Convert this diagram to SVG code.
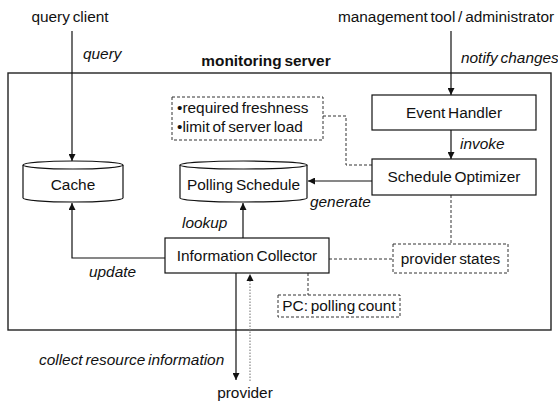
<svg xmlns="http://www.w3.org/2000/svg" width="558" height="403" viewBox="0 0 558 403">
  <defs>
    <marker id="arrow" viewBox="0 0 10 10" refX="10" refY="5" markerWidth="7" markerHeight="7" markerUnits="userSpaceOnUse" orient="auto">
      <path d="M0,0 L10,5 L0,10 z" fill="#111"/>
    </marker>
    <style>
      text { font-family: "Liberation Sans", Arial, Helvetica, sans-serif; font-size: 15.4px; fill: #111; word-spacing: -1.5px; }
      .it { font-style: italic; }
      .bold { font-weight: bold; }
      .mid { text-anchor: middle; }
      .box { fill: #fff; stroke: #111; stroke-width: 1.2; }
      .note { fill: #fff; stroke: #333; stroke-width: 1; stroke-dasharray: 3 2; }
      .line { fill: none; stroke: #111; stroke-width: 1.2; }
      .dash { fill: none; stroke: #333; stroke-width: 1; stroke-dasharray: 3 2; }
      .dot { fill: none; stroke: #888; stroke-width: 1.2; stroke-dasharray: 1.5 1.5; }
    </style>
  </defs>

  <rect width="558" height="403" fill="#fff"/>

  <!-- server boundary -->
  <g id="monitoring-server">
    <rect x="8" y="73" width="543" height="257" fill="none" stroke="#222" stroke-width="1.4"/>
    <text x="266" y="66" class="bold mid">monitoring server</text>
  </g>

  <!-- external actors -->
  <g id="query-client"><text x="70" y="22" class="mid">query client</text></g>
  <g id="management-tool"><text x="446" y="22" class="mid">management tool / administrator</text></g>
  <g id="provider"><text x="245" y="398" class="mid">provider</text></g>

  <!-- connectors -->
  <g id="connectors">
    <line x1="72" y1="31" x2="72" y2="161" class="line" marker-end="url(#arrow)"/>
    <line x1="451" y1="31" x2="451" y2="95" class="line" marker-end="url(#arrow)"/>
    <line x1="451" y1="130" x2="451" y2="159" class="line" marker-end="url(#arrow)"/>
    <line x1="372" y1="181" x2="308" y2="181" class="line" marker-end="url(#arrow)"/>
    <line x1="243" y1="238" x2="243" y2="203" class="line" marker-end="url(#arrow)"/>
    <polyline points="165,258 72,258 72,203" class="line" marker-end="url(#arrow)"/>
    <line x1="236" y1="273" x2="236" y2="380" class="line" marker-end="url(#arrow)"/>
    <line x1="250" y1="381" x2="250" y2="281" class="dot"/>
    <path d="M246.5,281 L250,274 L253.5,281 z" fill="#111"/>
    <polyline points="323,116 346,116 346,165 372,165" class="dash"/>
    <line x1="451" y1="195" x2="451" y2="244" class="dash"/>
    <line x1="329" y1="259" x2="393" y2="259" class="dash"/>
    <line x1="308" y1="273" x2="308" y2="295" class="dash"/>

    <text x="83" y="59" class="it">query</text>
    <text x="461" y="63" class="it">notify changes</text>
    <text x="460" y="149" class="it">invoke</text>
    <text x="310" y="207" class="it">generate</text>
    <text x="182" y="228" class="it">lookup</text>
    <text x="89" y="277" class="it">update</text>
    <text x="39" y="365" class="it">collect resource information</text>
  </g>

  <!-- nodes -->
  <g id="requirements-note">
    <rect x="172" y="97" width="151" height="43" class="note"/>
    <text x="177" y="113">•required freshness</text>
    <text x="177" y="132">•limit of server load</text>
  </g>

  <g id="event-handler">
    <rect x="372" y="95" width="164" height="35" class="box"/>
    <text x="454" y="118" class="mid">Event Handler</text>
  </g>

  <g id="schedule-optimizer">
    <rect x="372" y="159" width="164" height="36" class="box"/>
    <text x="454" y="182" class="mid">Schedule Optimizer</text>
  </g>

  <g id="cache">
    <path d="M23,165 L23,198 A50,4 0 0 0 123,198 L123,165" class="box"/>
    <ellipse cx="73" cy="165" rx="50" ry="4" class="box"/>
    <text x="73" y="190" class="mid">Cache</text>
  </g>

  <g id="polling-schedule">
    <path d="M180,165 L180,198 A63.5,4 0 0 0 307,198 L307,165" class="box"/>
    <ellipse cx="243.5" cy="165" rx="63.5" ry="4" class="box"/>
    <text x="243.5" y="190" class="mid">Polling Schedule</text>
  </g>

  <g id="information-collector">
    <rect x="165" y="238" width="164" height="35" class="box"/>
    <text x="247" y="261" class="mid">Information Collector</text>
  </g>

  <g id="provider-states">
    <rect x="393" y="244" width="115" height="29" class="note"/>
    <text x="450.5" y="264" class="mid">provider states</text>
  </g>

  <g id="polling-count">
    <rect x="278" y="295" width="122" height="22" class="note"/>
    <text x="339" y="311" class="mid">PC: polling count</text>
  </g>
</svg>
